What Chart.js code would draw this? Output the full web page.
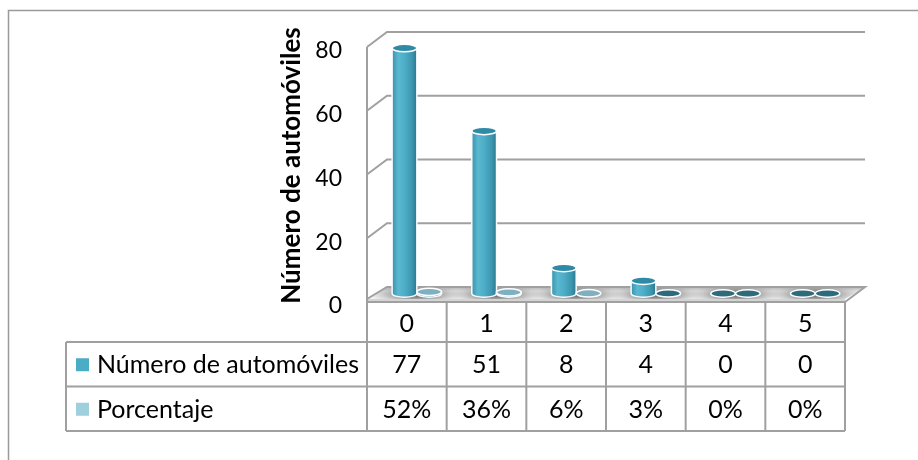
<!DOCTYPE html>
<html>
<head>
<meta charset="utf-8">
<script src="https://cdn.jsdelivr.net/npm/chart.js@4.4.1/dist/chart.umd.min.js"></script>
<style>
  html, body { margin: 0; padding: 0; background: #fff; }
  #wrap { width: 918px; height: 460px; }
</style>
</head>
<body>
<div id="wrap"><canvas id="chart" width="918" height="460"></canvas></div>
<script>
// data
const categories = ['0', '1', '2', '3', '4', '5'];
const seriesNames = ['Número de automóviles', 'Porcentaje'];
const autos = [77, 51, 8, 4, 0, 0];
const porcentaje = [0.52, 0.36, 0.06, 0.03, 0, 0];
const yTicks = [0, 20, 40, 60, 80];
const yTitle = 'Número de automóviles';

const FONT = 'Lato, "Open Sans", sans-serif';
const PAD_LEFT = 279;
const DX = 20, DY = -15;           // 3d depth offset of the back wall
const GRID = '#a0a0a0';
const legendColors = ['#4BACC6', '#9ECFDD'];
const topColors = ['#2f8aa5', '#7fb0c1'];
const flatColor = '#2c6b7c';

function tableText(ds, v) {
  return ds === 1 ? Math.round(v * 100) + '%' : String(v);
}

function cylinder(ctx, cx, yTop, yBot, rx, ry, topFill) {
  if (yBot - yTop > 1) {
    const g = ctx.createLinearGradient(cx - rx, 0, cx + rx, 0);
    g.addColorStop(0, '#3a92ab');
    g.addColorStop(0.25, '#5ab8d1');
    g.addColorStop(0.5, '#4eadc7');
    g.addColorStop(0.8, '#3c97b0');
    g.addColorStop(1, '#2c778e');
    ctx.beginPath();
    ctx.moveTo(cx - rx, yTop);
    ctx.lineTo(cx - rx, yBot);
    ctx.ellipse(cx, yBot, rx, ry, 0, Math.PI, 0, true);
    ctx.lineTo(cx + rx, yTop);
    ctx.closePath();
    ctx.fillStyle = g;
    ctx.fill();
    ctx.strokeStyle = 'rgba(255,255,255,0.95)';
    ctx.lineWidth = 1.5;
    ctx.stroke();
  }
  ctx.beginPath();
  ctx.ellipse(cx, yTop, rx, ry, 0, 0, Math.PI * 2);
  ctx.fillStyle = topFill;
  ctx.fill();
  ctx.strokeStyle = '#fff';
  ctx.lineWidth = 1.5;
  ctx.stroke();
}

const scene = {
  id: 'scene',
  beforeDatasetsDraw(chart) {
    const ctx = chart.ctx, y = chart.scales.y, x = chart.scales.x, a = chart.chartArea;
    const L = a.left, R = a.right, B = a.bottom;
    ctx.save();
    ctx.strokeStyle = GRID;
    ctx.lineWidth = 2;
    // back wall gridlines + side wall diagonals
    y.ticks.forEach(t => {
      const yp = y.getPixelForValue(t.value);
      ctx.beginPath();
      ctx.moveTo(L, yp);
      ctx.lineTo(L + DX, yp + DY);
      if (t.value !== 0) ctx.lineTo(R + DX, yp + DY);
      ctx.stroke();
    });
    // front vertical axis
    ctx.beginPath();
    ctx.moveTo(L, a.top);
    ctx.lineTo(L, B);
    ctx.stroke();
    // floor slab
    ctx.beginPath();
    ctx.moveTo(L, B - 3);
    ctx.lineTo(L + DX, B + DY);
    ctx.lineTo(R + DX, B + DY);
    ctx.lineTo(R, B - 3);
    ctx.closePath();
    const g = ctx.createLinearGradient(0, B + DY, 0, B - 3);
    g.addColorStop(0, '#b0b0b0');
    g.addColorStop(0.35, '#e6e6e6');
    g.addColorStop(1, '#f4f4f4');
    ctx.fillStyle = g;
    ctx.fill();
    // soft shadows on the floor around each pair of cylinders
    ctx.save();
    ctx.clip();
    const cw = (R - L) / categories.length;
    categories.forEach((c, i) => {
      const cx = x.getPixelForValue(i) + DX / 2, cy = B + DY / 2;
      ctx.save();
      ctx.translate(cx, cy);
      ctx.scale(1, 0.22);
      const r = ctx.createRadialGradient(0, 0, 0, 0, 0, cw * 0.6);
      r.addColorStop(0, 'rgba(60,60,60,0.85)');
      r.addColorStop(0.55, 'rgba(110,110,110,0.45)');
      r.addColorStop(1, 'rgba(160,160,160,0)');
      ctx.fillStyle = r;
      ctx.beginPath();
      ctx.arc(0, 0, cw * 0.6, 0, Math.PI * 2);
      ctx.fill();
      ctx.restore();
    });
    ctx.restore();
    ctx.fillStyle = '#d4d4d4';
    ctx.fillRect(L, B - 3, R - L, 3);
    ctx.beginPath();
    ctx.moveTo(L, B);
    ctx.lineTo(L, B - 3);
    ctx.lineTo(L + DX, B + DY);
    ctx.lineTo(R + DX, B + DY);
    ctx.lineTo(R, B);
    ctx.lineTo(L, B);
    ctx.stroke();
    ctx.restore();
  },
  afterDatasetsDraw(chart) {
    const ctx = chart.ctx;
    ctx.save();
    chart.data.datasets.forEach((ds, di) => {
      chart.getDatasetMeta(di).data.forEach((el, i) => {
        const rx = el.width / 2, ry = el.width * 0.15;
        const cx = el.x + DX / 2;
        const yBot = el.base + DY / 2 - 1;
        const yTop = el.y + DY / 2 - 1;
        const v = ds.data[i];
        const topFill = v >= 0.05 ? topColors[di] : flatColor;
        cylinder(ctx, cx, Math.min(yTop, yBot), yBot, rx, ry, topFill);
      });
    });
    ctx.restore();
  },
  afterDraw(chart) {
    const ctx = chart.ctx, x = chart.scales.x, y = chart.scales.y, a = chart.chartArea;
    const n = categories.length, cw = (x.right - x.left) / n;
    const L = x.left, R = x.right, T = a.bottom;
    const hH = 40, rH = 44.5, tL = 66;
    const r1 = T + hH, r2 = r1 + rH, r3 = r2 + rH;
    ctx.save();
    ctx.strokeStyle = GRID;
    ctx.lineWidth = 2;
    ctx.beginPath();
    for (let i = 0; i <= n; i++) {
      ctx.moveTo(L + i * cw, T);
      ctx.lineTo(L + i * cw, r3);
    }
    ctx.moveTo(tL, r1); ctx.lineTo(R, r1);
    ctx.moveTo(tL, r2); ctx.lineTo(R, r2);
    ctx.moveTo(tL, r3); ctx.lineTo(R, r3);
    ctx.moveTo(tL, r1); ctx.lineTo(tL, r3);
    ctx.stroke();

    ctx.fillStyle = '#000';
    ctx.font = '25px ' + FONT;
    ctx.textAlign = 'center';
    ctx.textBaseline = 'middle';
    categories.forEach((c, i) => ctx.fillText(c, x.getPixelForValue(i), T + hH / 2 + 2));
    [autos, porcentaje].forEach((arr, di) => {
      const yc = T + hH + rH * di + rH / 2 + 1;
      arr.forEach((v, i) => ctx.fillText(tableText(di, v), x.getPixelForValue(i), yc));
      ctx.fillStyle = legendColors[di];
      ctx.fillRect(76, yc - 7, 13, 13);
      ctx.fillStyle = '#000';
      ctx.textAlign = 'left';
      ctx.fillText(seriesNames[di], 97, yc);
      ctx.textAlign = 'center';
    });

    // value axis title, rotated
    ctx.save();
    ctx.translate(292, (y.top + y.bottom) / 2 - 9);
    ctx.rotate(-Math.PI / 2);
    ctx.font = 'bold 26px ' + FONT;
    ctx.fillText(yTitle, 0, 0);
    ctx.restore();

    // outer chart border (continues past the picture edge)
    ctx.strokeStyle = '#9a9a9a';
    ctx.lineWidth = 1.5;
    ctx.beginPath();
    ctx.moveTo(8.5, 470);
    ctx.lineTo(8.5, 10.5);
    ctx.lineTo(930, 10.5);
    ctx.stroke();
    ctx.restore();
  }
};

new Chart(document.getElementById('chart'), {
  type: 'bar',
  data: {
    labels: categories,
    datasets: [
      { label: seriesNames[0], data: autos },
      { label: seriesNames[1], data: porcentaje }
    ].map(d => Object.assign(d, {
      backgroundColor: 'rgba(0,0,0,0)', borderWidth: 0,
      categoryPercentage: 0.62, barPercentage: 1
    }))
  },
  options: {
    responsive: false,
    animation: false,
    layout: { padding: { left: PAD_LEFT, right: 73, top: 47, bottom: 158 } },
    plugins: { legend: { display: false }, tooltip: { enabled: false } },
    scales: {
      x: { display: false },
      y: {
        min: yTicks[0], max: yTicks[yTicks.length - 1],
        afterBuildTicks: s => { s.ticks = yTicks.map(v => ({ value: v })); },
        afterFit: s => { s.width = 367 - PAD_LEFT; },
        grid: { display: false, drawTicks: false },
        border: { display: false },
        ticks: { padding: 25, labelOffset: 4, color: '#000', font: { family: FONT, size: 23 } },
        title: { display: false }
      }
    }
  },
  plugins: [scene]
});
</script>
</body>
</html>
